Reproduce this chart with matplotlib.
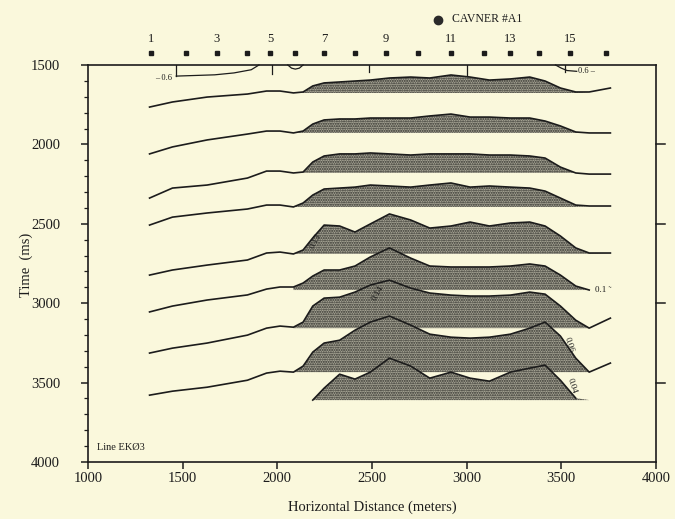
import numpy as np
import matplotlib
matplotlib.use("Agg")
import matplotlib.pyplot as plt
from matplotlib.ticker import MultipleLocator

plt.rcParams['font.family'] = ['Liberation Serif', 'DejaVu Serif']
plt.rcParams['hatch.linewidth'] = 1.0

BG = '#faf8dc'
INK = '#1c1c1c'

# ---------------- data (horizontal distance in m, two-way time in ms) -------------
distance = [1325, 1446, 1629, 1842, 1943, 2014, 2085, 2136, 2187, 2247, 2329, 2410, 2491,
            2592, 2704, 2805, 2917, 3018, 3120, 3231, 3333, 3414, 3495, 3576, 3647, 3759]

nan = np.nan
horizon1 = [1765, 1733, 1702, 1683, 1664, 1664, 1676, 1670, 1632, 1613, 1607, 1601, 1595,
            1582, 1576, 1582, 1563, 1576, 1595, 1588, 1576, 1601, 1645, 1670, 1670, 1645]
horizon2 = [2060, 2016, 1972, 1935, 1916, 1916, 1928, 1916, 1872, 1846, 1840, 1840, 1834,
            1834, 1834, 1821, 1809, 1828, 1828, 1834, 1834, 1853, 1884, 1922, 1928, 1928]
horizon3 = [2338, 2275, 2256, 2212, 2168, 2168, 2180, 2174, 2111, 2073, 2060, 2060, 2054,
            2060, 2067, 2060, 2060, 2060, 2067, 2067, 2073, 2086, 2143, 2180, 2187, 2187]
horizon4 = [2508, 2458, 2432, 2407, 2382, 2382, 2394, 2369, 2319, 2281, 2275, 2269, 2256,
            2262, 2269, 2256, 2243, 2269, 2262, 2269, 2275, 2294, 2338, 2382, 2388, 2388]
horizon5 = [2823, 2791, 2760, 2728, 2684, 2678, 2690, 2665, 2589, 2508, 2514, 2552, 2501,
            2438, 2476, 2527, 2514, 2489, 2514, 2495, 2489, 2514, 2577, 2652, 2684, 2684]
horizon6 = [3055, 3018, 2980, 2948, 2911, 2898, 2898, 2873, 2829, 2791, 2791, 2766, 2709,
            2652, 2716, 2766, 2772, 2772, 2772, 2766, 2753, 2766, 2823, 2892, 2917, nan]
horizon7 = [3314, 3283, 3251, 3201, 3157, 3144, 3151, 3119, 3018, 2968, 2962, 2930, 2886,
            2855, 2905, 2936, 2949, 2955, 2955, 2949, 2930, 2943, 3018, 3107, 3157, 3094]
horizon8 = [3579, 3554, 3529, 3485, 3440, 3428, 3434, 3396, 3308, 3251, 3233, 3170, 3119,
            3081, 3138, 3195, 3214, 3220, 3214, 3195, 3157, 3119, 3207, 3346, 3434, 3377]
horizon9 = [nan, nan, nan, nan, nan, nan, nan, nan, 3610, 3535, 3447, 3478, 3434,
            3346, 3396, 3472, 3434, 3472, 3491, 3434, 3409, 3390, 3485, 3598, nan, nan]
horizons = [horizon1, horizon2, horizon3, horizon4, horizon5,
            horizon6, horizon7, horizon8, horizon9]

shade_base = [1676, 1928, 2180, 2394, 2690, 2917, 3157, 3434, 3610]
shade_start = [2085, 2085, 2085, 2085, 2085, 2085, 2085, 2085, 2187]
shade_end = [3576, 3647, 3576, 3576, 3647, 3647, 3647, 3647, 3576]

# isochore labels: (text, x, t, rotation)
contour_labels = [("0.13", 2165, 2610, 62), ("0.14", 2490, 2935, 60),
                  ("0.1 \u02dc", 3677, 2915, 0), ("0.06", 3505, 3262, -72),
                  ("0.04", 3525, 3520, -72)]

# surface detail at top of section
hang_left_x = [1466, 1669, 1771, 1862, 1903]
hang_left_t = [1570, 1562, 1550, 1530, 1500]
hang_right_x = [3469, 3500, 3530, 3581]
hang_right_t = [1500, 1520, 1535, 1540]
dip_x = [2055, 2075, 2095, 2116, 2136]
dip_t = [1500, 1520, 1526, 1520, 1500]
drop_x = [1466, 1972, 2485, 3002, 3520]
drop_t = [1570, 1555, 1545, 1560, 1545]

station_num = list(range(1, 17))
station_x = [1335, 1517, 1679, 1842, 1963, 2095, 2247, 2410, 2572,
             2744, 2917, 3089, 3231, 3383, 3546, 3738]
well_x, well_name = 2850, "CAVNER #A1"

x_ticks = [1000, 1500, 2000, 2500, 3000, 3500, 4000]
y_ticks = [1500, 2000, 2500, 3000, 3500, 4000]
right_ticks = [2000, 2500, 3000, 3500]

# ---------------- figure -------------
fig = plt.figure(figsize=(6.75, 5.19), dpi=100, facecolor=BG)
ax = fig.add_axes([0.1304, 0.1098, 0.8415, 0.7650], facecolor=BG)
ax.set_xlim(1000, 4000)
ax.set_ylim(4000, 1500)

x = np.array(distance, float)
for i, h in enumerate(horizons):
    t = np.array(h, float)
    ok = ~np.isnan(t)
    where = ok & (x >= shade_start[i]) & (x <= shade_end[i])
    where &= np.where(ok, t <= shade_base[i] + 1e-9, False)
    ax.fill_between(x, np.where(ok, t, shade_base[i]), shade_base[i], where=where,
                    interpolate=True, facecolor='#a9a797', edgecolor='#2c2c28',
                    hatch='.......', linewidth=0, zorder=2)
for h in horizons:
    ax.plot(x, h, color=INK, lw=1.2, zorder=3, solid_joinstyle='round')

for txt, lx, lt, rot in contour_labels:
    ax.text(lx, lt, txt, fontsize=6.5, rotation=rot, ha='left', va='center',
            color=INK, zorder=4)

# top surface details
ax.plot(hang_left_x, hang_left_t, color=INK, lw=0.9, clip_on=False, zorder=3)
ax.plot(hang_right_x, hang_right_t, color=INK, lw=0.9, clip_on=False, zorder=3)
ax.plot(dip_x, dip_t, color=INK, lw=0.9, clip_on=False, zorder=3)
for dx, dt in zip(drop_x, drop_t):
    ax.plot([dx, dx], [1500, dt], color=INK, lw=0.9, zorder=3)
ax.text(1446, 1585, "\u2013 0.6", fontsize=6, ha='right', va='center', color=INK)
ax.text(3590, 1540, "0.6 \u2013", fontsize=6, ha='left', va='center', color=INK)

# stations
ax.plot(station_x, [1425] * len(station_x), ls='none', marker='s', ms=3.3,
        color=INK, clip_on=False, zorder=4)
for n, sx in zip(station_num, station_x):
    if n % 2 == 1:
        ax.text(sx, 1335, str(n), fontsize=9, ha='center', va='center',
                color=INK, clip_on=False)
ax.plot([well_x], [1215], ls='none', marker='o', ms=6, color='#2a2a2a', clip_on=False)
ax.text(well_x + 70, 1212, well_name, fontsize=8.5, ha='left', va='center', color=INK)

ax.text(1045, 3908, "Line EK\u00d83", fontsize=7.5, ha='left', va='center', color=INK)

# frame
ax.spines['top'].set_visible(False)
for s in ['left', 'bottom', 'right']:
    ax.spines[s].set_linewidth(1.2)
    ax.spines[s].set_color(INK)
ax.plot([1000, 4000], [1500, 1500], color=INK, lw=1.2, clip_on=False, zorder=3)
for rt in right_ticks:
    ax.plot([4000, 4045], [rt, rt], color=INK, lw=1.1, clip_on=False)

ax.set_xticks(x_ticks)
ax.set_yticks(y_ticks)
ax.yaxis.set_minor_locator(MultipleLocator(100))
ax.tick_params(axis='both', which='major', direction='out', length=5, width=1.1,
               colors=INK, labelsize=10.5)
ax.tick_params(axis='y', which='major', pad=15)
ax.tick_params(axis='x', which='major', pad=2)
ax.tick_params(axis='y', which='minor', direction='out', length=3, width=0.9, colors=INK)

ax.set_xlabel("Horizontal Distance (meters)", fontsize=10.5, color=INK)
ax.xaxis.set_label_coords(0.50, -0.098)
ax.set_ylabel("Time  (ms)", fontsize=10.5, color=INK, va='center')
ax.yaxis.set_label_coords(-0.108, 0.496)

fig.savefig("out.png", dpi=100, facecolor=BG)
